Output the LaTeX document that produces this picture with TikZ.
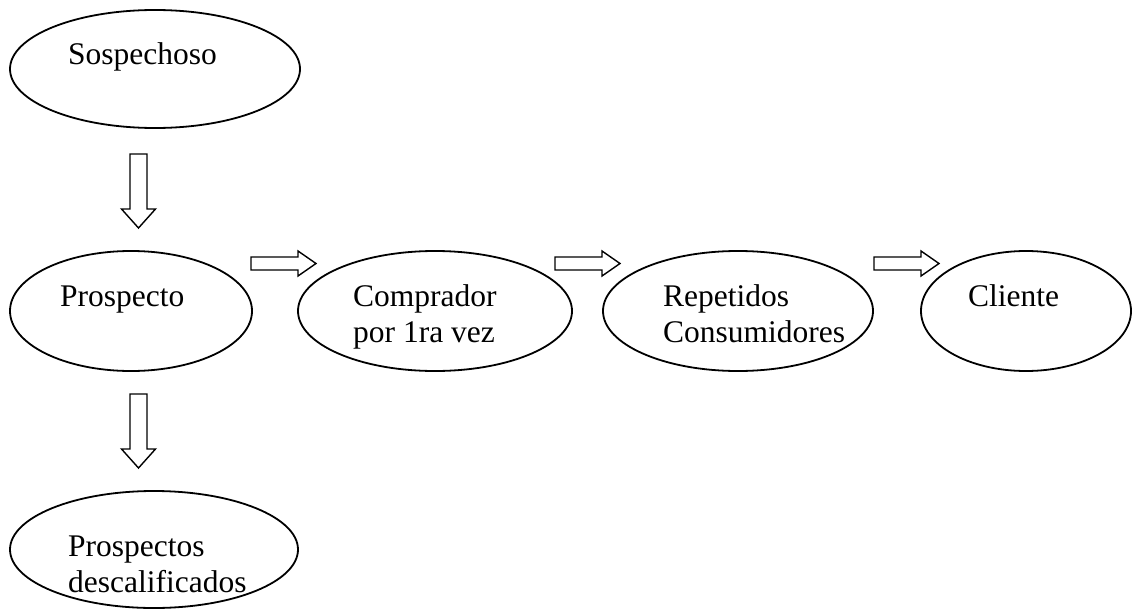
\documentclass[tikz,border=0pt]{standalone}
\usepackage{fontspec}
\setmainfont{Liberation Serif}
\usetikzlibrary{shapes.geometric}
\begin{document}
\begin{tikzpicture}[x=1pt,y=-1pt,
  stage/.style={draw, ellipse, line width=1.8pt, inner sep=0pt},
  lbl/.style={anchor=base west, inner sep=0pt, align=left,
              font=\fontsize{31.5}{36}\selectfont},
  blk/.style={draw, line width=1.4pt, fill=white, line join=miter},
  rblock/.pic={\draw[blk] (0,-6.5) -- (47,-6.5) -- (47,-12.5) -- (65,0)
      -- (47,12.5) -- (47,6.5) -- (0,6.5) -- cycle;},
  dblock/.pic={\draw[blk] (-8.5,0) -- (-8.5,55) -- (-17,55) -- (0,74)
      -- (17,55) -- (8.5,55) -- (8.5,0) -- cycle;}]
\useasboundingbox (0,0) rectangle (1132,610);

% stages of the customer path
\node[stage, minimum width=290pt, minimum height=118pt] (sosp) at (155,69) {};
\node[stage, minimum width=242pt, minimum height=120pt] (prosp) at (131,311) {};
\node[stage, minimum width=274pt, minimum height=120pt] (compr) at (435,311) {};
\node[stage, minimum width=270pt, minimum height=120pt] (repet) at (738,311) {};
\node[stage, minimum width=210pt, minimum height=120pt] (clien) at (1026,311) {};
\node[stage, minimum width=288pt, minimum height=117pt] (desc) at (154,549.5) {};

% labels (base anchor of a two-line label sits on its last line)
\node[lbl] (tsosp) at (68,65) {Sospechoso};
\node[lbl] (tprosp) at (60,306) {Prospecto};
\node[lbl] (tcompr) at (353,342) {Comprador\\por 1ra vez};
\node[lbl] (trepet) at (663,342) {Repetidos\\Consumidores};
\node[lbl] (tclien) at (968,306) {Cliente};
\node[lbl] (tdesc) at (68,592) {Prospectos\\descalificados};

% block arrows between stages
\pic (a1) at (138.5,154) {dblock};
\pic (a2) at (138.5,394) {dblock};
\pic (a3) at (251,263.5) {rblock};
\pic (a4) at (555,263.5) {rblock};
\pic (a5) at (874,263.5) {rblock};
\end{tikzpicture}
\end{document}
